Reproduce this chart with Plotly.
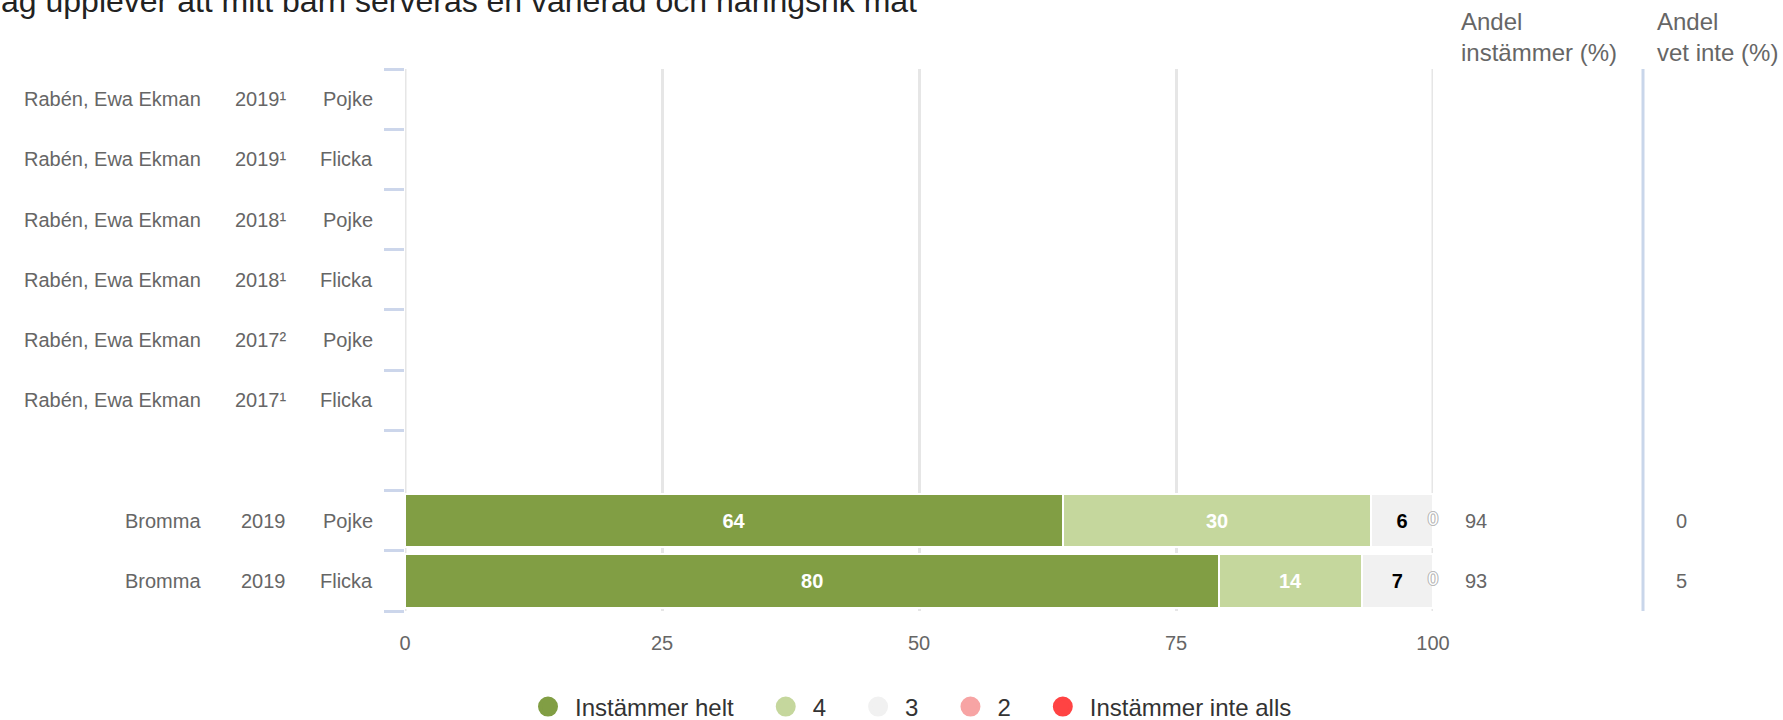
import plotly.graph_objects as go

# Jag upplever att mitt barn serveras en varierad och näringsrik mat
titel = "Jag upplever att mitt barn serveras en varierad och näringsrik mat"

enheter = ["Rabén, Ewa Ekman"] * 6 + ["", "Bromma", "Bromma"]
ar = ["2019¹", "2019¹", "2018¹", "2018¹", "2017²", "2017¹", "", "2019", "2019"]
kon = ["Pojke", "Flicka", "Pojke", "Flicka", "Pojke", "Flicka", "", "Pojke", "Flicka"]

svar = ["Instämmer helt", "4", "3", "2", "Instämmer inte alls"]
farger = ["#819e44", "#c5d79d", "#f1f1f1", "#f7a4a4", "#ff4343"]
textfarg = ["white", "white", "black", "black", "black"]

instammer_helt = [None] * 7 + [64, 80]
fyra = [None] * 7 + [30, 14]
tre = [None] * 7 + [6, 7]
tva = [None] * 7 + [0, 0]
instammer_inte_alls = [None] * 7 + [0, 0]

andel_instammer = [None] * 7 + [94, 93]
andel_vet_inte = [None] * 7 + [0, 5]

x_ticks = [0, 25, 50, 75, 100]

serier = [instammer_helt, fyra, tre, tva, instammer_inte_alls]
rader = list(range(len(kon)))

# plottytans placering i pixlar
L, R, T, B = 405, 1433, 69, 611
W, H = 1783, 720


def px_x(p):
    return (p - L) / (R - L)


def px_y(p):
    return (B - p) / (B - T)


fnt = "Liberation Sans, Arial, sans-serif"
gra = "#666666"

fig = go.Figure()

for namn, varden, farg, tf in zip(svar, serier, farger, textfarg):
    fig.add_trace(go.Bar(
        y=rader, x=varden, orientation="h", name=namn,
        marker=dict(color=farg, line=dict(color="white", width=2)),
        width=0.89,
        text=[("" if v is None or v == 0 else str(v)) for v in varden],
        texttemplate="%{text}", textposition="inside", insidetextanchor="middle",
        constraintext="none", textangle=0,
        textfont=dict(family=fnt, size=20, color=tf, weight="bold"),
        showlegend=False, hoverinfo="skip",
    ))

# nollor skrivs ut vid stapelns slut
nx, ny, nt = [], [], []
for i in rader:
    vals = [s[i] for s in serier]
    if all(v is None for v in vals):
        continue
    tot = sum(v for v in vals if v is not None)
    cum = 0
    for v in vals:
        cum += v
        if v == 0:
            nx.append(cum / tot * 100)
            ny.append(i)
            nt.append(str(v))
fig.add_trace(go.Scatter(
    x=nx, y=ny, text=nt, mode="text", textposition="middle center",
    textfont=dict(family=fnt, size=18, color="white",
                  shadow="1px 0 0 #bbb, -1px 0 0 #bbb, 0 1px 0 #bbb, 0 -1px 0 #bbb"),
    showlegend=False, hoverinfo="skip", cliponaxis=False,
))

# legend med cirklar (nbsp ger lite luft mellan posterna)
for namn, farg in zip(svar, farger):
    fig.add_trace(go.Scatter(
        x=[None], y=[None], mode="markers", name=namn + "\u00a0" * 3,
        marker=dict(color=farg, size=16, symbol="circle", line=dict(color=farg, width=4)),
    ))

annotations = []
for i in rader:
    for txt, xp in [(enheter[i], 203), (ar[i], 288), (kon[i], 375)]:
        annotations.append(dict(xref="paper", yref="y", x=px_x(xp), y=i, text=txt,
                                xanchor="right", showarrow=False,
                                font=dict(family=fnt, size=20, color=gra)))
    if andel_instammer[i] is not None:
        annotations.append(dict(xref="paper", yref="y", x=px_x(1463), y=i,
                                text=str(andel_instammer[i]), xanchor="left", showarrow=False,
                                font=dict(family=fnt, size=20, color=gra)))
    if andel_vet_inte[i] is not None:
        annotations.append(dict(xref="paper", yref="y", x=px_x(1674), y=i,
                                text=str(andel_vet_inte[i]), xanchor="left", showarrow=False,
                                font=dict(family=fnt, size=20, color=gra)))

for x0, rad1, rad2 in [(1459, "Andel", "instämmer (%)"), (1655, "Andel", "vet inte (%)")]:
    annotations.append(dict(xref="paper", yref="paper", x=px_x(x0), y=px_y(22), text=rad1,
                            xanchor="left", yanchor="middle", showarrow=False,
                            font=dict(family=fnt, size=24, color=gra)))
    annotations.append(dict(xref="paper", yref="paper", x=px_x(x0), y=px_y(52), text=rad2,
                            xanchor="left", yanchor="middle", showarrow=False,
                            font=dict(family=fnt, size=24, color=gra)))

annotations.append(dict(xref="paper", yref="paper", x=px_x(-17), y=px_y(0.5), text=titel,
                        xanchor="left", yanchor="middle", showarrow=False,
                        font=dict(family=fnt, size=32, color="#222222")))

shapes = [dict(type="line", xref="paper", yref="paper", x0=px_x(1643), x1=px_x(1643),
               y0=0, y1=1, line=dict(color="#c9d6ea", width=3))]
# rutnätslinjer vid axelns ändar (plotly ritar dem inte själv)
for v in (x_ticks[0], x_ticks[-1]):
    shapes.append(dict(type="line", xref="x", yref="paper", x0=v, x1=v, y0=0, y1=1,
                       layer="below", line=dict(color="#e6e6e6", width=3)))

fig.update_layout(
    width=W, height=H,
    margin=dict(l=L, r=W - R, t=T, b=H - B, pad=0, autoexpand=False),
    paper_bgcolor="white", plot_bgcolor="white",
    barmode="stack", barnorm="percent",
    font=dict(family=fnt, size=20, color=gra),
    annotations=annotations,
    shapes=shapes,
    legend=dict(orientation="h", x=0.5, xanchor="center", y=px_y(707), yanchor="middle",
                font=dict(family=fnt, size=24, color="#333333"), itemsizing="trace",
                itemwidth=44, traceorder="normal", bgcolor="rgba(0,0,0,0)"),
    xaxis=dict(range=[x_ticks[0], x_ticks[-1]], tickvals=x_ticks, showgrid=True,
               gridcolor="#e6e6e6", gridwidth=3, zeroline=False, showline=False,
               ticks="", ticklabelstandoff=18,
               tickfont=dict(family=fnt, size=20, color=gra), fixedrange=True),
    yaxis=dict(range=[len(rader) - 0.5, -0.5], tickvals=[r - 0.5 for r in rader] + [len(rader) - 0.5],
               showticklabels=False, ticks="outside", ticklen=20, tickwidth=3,
               tickcolor="#ccd6eb", showgrid=False, zeroline=False, showline=False,
               fixedrange=True),
)

fig.write_html("out.html", config={"displayModeBar": False},
               post_script="document.body.style.margin='0px';document.body.style.overflow='hidden';")
